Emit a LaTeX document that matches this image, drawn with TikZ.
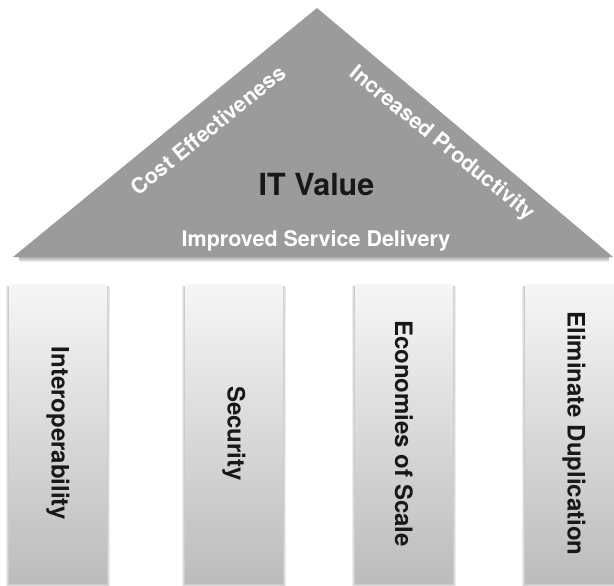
\documentclass[tikz,border=0pt]{standalone}
\usepackage{fontspec}
\setmainfont{TeX Gyre Heros}
\definecolor{roofgray}{RGB}{155,155,155}
\definecolor{pilltop}{RGB}{246,246,246}
\definecolor{pillbot}{RGB}{188,188,188}
\definecolor{darktext}{RGB}{24,24,24}
\begin{document}
\begin{tikzpicture}[x=1pt,y=-1pt,
  roof/.style={fill=roofgray},
  rooflabel/.style={text=white,font=\bfseries\fontsize{21.5}{24}\selectfont,inner sep=0pt},
  titlelabel/.style={text=darktext,font=\bfseries\fontsize{30.5}{34}\selectfont,inner sep=0pt},
  pillar/.style={rectangle,minimum width=98pt,minimum height=299pt,inner sep=0pt,
    top color=pilltop,bottom color=pillbot,draw=none},
  pillarlabel/.style={rotate=-90,text=darktext,font=\bfseries\fontsize{24}{28}\selectfont,inner sep=0pt},
  softshadow/.style={fill=black,opacity=0.07,draw=none}
]
\useasboundingbox (0,0) rectangle (614,586);
\clip (0,0) rectangle (614,586);

% roof corners
\coordinate (apex) at (317,8);
\coordinate (baseL) at (13,257);
\coordinate (baseR) at (613,257);

% soft shadow under the roof
\foreach \d in {1,2,3,4,5}{
  \fill[softshadow] ([xshift=6pt]baseL) rectangle ([xshift=-4pt,yshift=-\d pt]baseR);
}
% roof
\fill[roof] (baseL) -- (apex) -- (baseR) -- cycle;

% roof texts
\node[rooflabel,rotate=39] (cost) at (208,130) {Cost Effectiveness};
\node[rooflabel,rotate=-39] (prod) at (442,144) {Increased Productivity};
\node[titlelabel,anchor=base] (value) at (316.5,195) {IT Value};
\node[rooflabel,anchor=base] (service) at (316,246) {Improved Service Delivery};

% pillars with soft shadows
\foreach \n/\cx in {p1/58,p2/234,p3/404,p4/574}{
  \foreach \d in {1,2,3}{
    \fill[softshadow] (\cx-49-\d,286) rectangle (\cx+49+\d,583.5+\d);
  }
  \node[pillar] (\n) at (\cx,433.5) {};
}

% pillar labels
\node[pillarlabel] (l1) at (p1.center) {Interoperability};
\node[pillarlabel] (l2) at (p2.center) {Security};
\node[pillarlabel] (l3) at (p3.center) {Economies of Scale};
\node[pillarlabel] (l4) at (p4.center) {Eliminate Duplication};
\end{tikzpicture}
\end{document}
